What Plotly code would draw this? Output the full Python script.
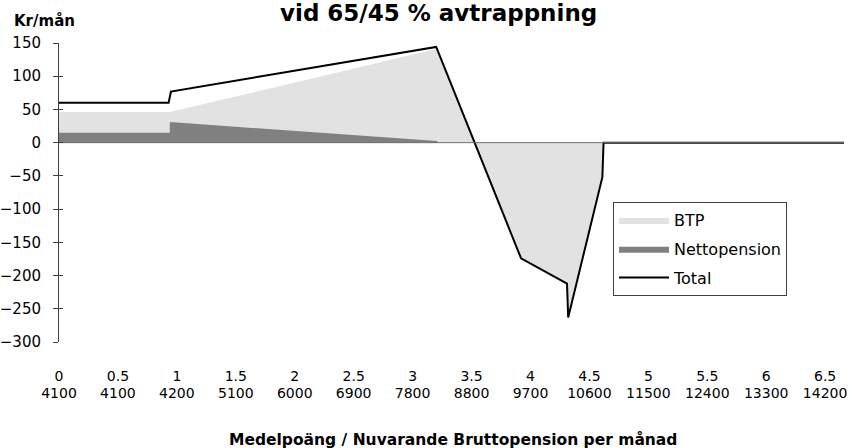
import plotly.graph_objects as go

# Category labels along the x axis: medelpoäng and matching bruttopension (kr/mån)
tick_points = [0, 0.5, 1, 1.5, 2, 2.5, 3, 3.5, 4, 4.5, 5, 5.5, 6, 6.5]
tick_poang = ["0", "0.5", "1", "1.5", "2", "2.5", "3", "3.5", "4", "4.5", "5", "5.5", "6", "6.5"]
tick_brutto = ["4100", "4100", "4200", "5100", "6000", "6900", "7800", "8800",
               "9700", "10600", "11500", "12400", "13300", "14200"]
y_ticks = [150, 100, 50, 0, -50, -100, -150, -200, -250, -300]

x_max = 6.66

# BTP (light area)
btp_x = [0, 0.94, 3.2, 3.92, 4.31, 4.32, 4.61, 4.62, 6.66]
btp_y = [46, 46, 141, -174, -212, -263, -52, 0, 0]

# Nettopension (dark area)
netto_x = [0, 0.94, 0.94, 3.21, 3.21]
netto_y = [15, 15, 31, 2.5, 0]

# Total (line)
total_x = [0, 0.93, 0.95, 3.2, 3.92, 4.31, 4.32, 4.61, 4.62, 6.66]
total_y = [60, 60, 77, 144, -174, -212, -263, -52, 0, 0]

W, H = 852, 448
L, R, T, B = 59, 8, 43, 106

fig = go.Figure()

fig.add_trace(go.Scatter(
    x=btp_x, y=btp_y, name="BTP", mode="lines", fill="tozeroy",
    fillcolor="#e2e2e2", line=dict(width=0, color="#e2e2e2"),
    legendgroup="a", hoverinfo="skip"))
fig.add_trace(go.Scatter(
    x=netto_x, y=netto_y, name="Nettopension", mode="lines", fill="tozeroy",
    fillcolor="#808080", line=dict(width=0, color="#808080"),
    legendgroup="b", hoverinfo="skip"))
# category axis line crossing at 0
fig.add_trace(go.Scatter(
    x=[0, x_max], y=[0, 0], mode="lines", xaxis="x2",
    line=dict(width=1, color="#707070"), showlegend=False, hoverinfo="skip"))
fig.add_trace(go.Scatter(
    x=total_x, y=total_y, name="Total", mode="lines",
    line=dict(width=2, color="#000000"), legendgroup="c", hoverinfo="skip"))
# carrier for the second label row
fig.add_trace(go.Scatter(
    x=[0], y=[0], mode="markers", xaxis="x3", marker=dict(opacity=0),
    showlegend=False, hoverinfo="skip"))
# carrier for the inner tick marks of the value axis
fig.add_trace(go.Scatter(
    x=[0], y=[0], yaxis="y2", mode="markers", marker=dict(opacity=0),
    showlegend=False, hoverinfo="skip"))

tick_font = dict(family="DejaVu Sans", size=14, color="#000000")
ytick_font = dict(family="DejaVu Sans", size=15, color="#000000")

fig.update_layout(
    width=W, height=H,
    margin=dict(l=L, r=R, t=T, b=B, autoexpand=False),
    paper_bgcolor="white", plot_bgcolor="white",
    showlegend=True,
    xaxis=dict(range=[0, x_max], showgrid=False, zeroline=False, showline=False,
               tickmode="array", tickvals=tick_points, ticktext=tick_poang,
               ticks="", tickfont=tick_font, ticklabelstandoff=24, automargin=False),
    xaxis2=dict(overlaying="x", matches="x", showgrid=False, zeroline=False,
                showline=False, showticklabels=False, ticks="", automargin=False),
    xaxis3=dict(overlaying="x", matches="x", showgrid=False, zeroline=False,
                showline=False, tickmode="array", tickvals=tick_points,
                ticktext=tick_brutto, ticks="", tickfont=tick_font,
                ticklabelstandoff=41, side="bottom", automargin=False),
    yaxis=dict(range=[-300, 150], tickmode="array", tickvals=y_ticks,
               showgrid=False, zeroline=False, showline=True, linecolor="#404040",
               linewidth=1, ticks="outside", ticklen=5, tickcolor="#404040",
               tickfont=ytick_font, ticklabelstandoff=9, automargin=False),
    yaxis2=dict(overlaying="y", matches="y", showgrid=False, zeroline=False,
                showline=False, ticks="inside", ticklen=4, tickcolor="#404040",
                tickmode="array", tickvals=y_ticks, showticklabels=False,
                automargin=False),
    legend=dict(x=(613 - L) / (W - L - R), y=(342 - 202) / (H - T - B),
                xanchor="left", yanchor="top",
                bgcolor="white", bordercolor="#404040", borderwidth=1,
                font=dict(family="DejaVu Sans", size=16, color="#000000"),
                tracegroupgap=5, itemwidth=50),
)

pw = W - L - R
ph = H - T - B
fig.add_annotation(text="<b>vid 65/45 % avtrappning</b>", xref="paper", yref="paper",
                   x=(438.5 - L) / pw, y=1 + (T - 13) / ph, xanchor="center",
                   yanchor="middle", showarrow=False,
                   font=dict(family="DejaVu Sans", size=23, color="#000000"))
fig.add_annotation(text="<b>Kr/mån</b>", xref="paper", yref="paper",
                   x=(12 - L) / pw, y=1 + (T - 21) / ph, xanchor="left",
                   yanchor="middle", showarrow=False,
                   font=dict(family="DejaVu Sans", size=15, color="#000000"))
fig.add_annotation(text="<b>Medelpoäng / Nuvarande Bruttopension per månad</b>",
                   xref="paper", yref="paper",
                   x=(452.5 - L) / pw, y=-(439 - (H - B)) / ph, xanchor="center",
                   yanchor="middle", showarrow=False,
                   font=dict(family="DejaVu Sans", size=15.5, color="#000000"))

fig.write_html("out.html")
